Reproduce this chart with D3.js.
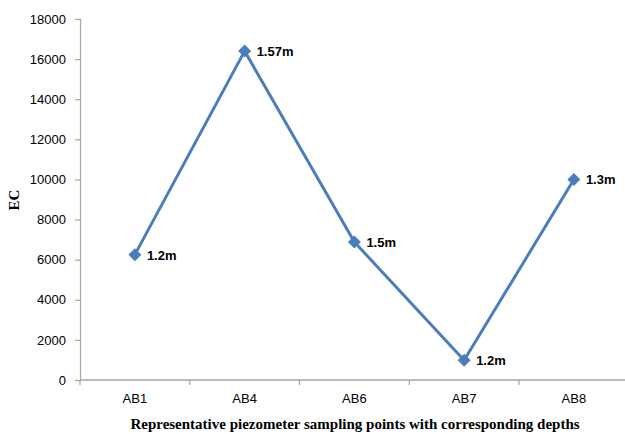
<!DOCTYPE html>
<html>
<head>
<meta charset="utf-8">
<script src="https://cdn.jsdelivr.net/npm/d3@7"></script>
<style>
  html, body { margin: 0; padding: 0; background: #fff; }
  svg { display: block; }
</style>
</head>
<body>
<svg id="chart" width="625" height="434"></svg>
<script>
// EC at each piezometer, with the sampling depth shown beside its marker
const categories = ["AB1", "AB4", "AB6", "AB7", "AB8"];
const ecValues = [6250, 16400, 6880, 980, 10000];
const depthLabels = ["1.2m", "1.57m", "1.5m", "1.2m", "1.3m"];
const yTicks = [0, 2000, 4000, 6000, 8000, 10000, 12000, 14000, 16000, 18000];

const svg = d3.select("#chart");
const margin = { left: 80, top: 19, bottom: 54 };
const W = 625, H = 434;
const plotRight = 80 + 109.75 * 5;

const x = d3.scaleBand().domain(categories).range([margin.left, plotRight]);
const y = d3.scaleLinear().domain([0, 18000]).range([H - margin.bottom, margin.top]);

const axisColor = "#a6a6a6";
const tickFont = "'Liberation Sans', Arial, sans-serif";

// Y axis
const yAxis = svg.append("g")
  .attr("transform", `translate(${margin.left},0)`)
  .call(d3.axisLeft(y).tickValues(yTicks).tickSize(5).tickPadding(9).tickFormat(d3.format("d")));
yAxis.select(".domain").attr("stroke", axisColor).attr("stroke-width", 1.2);
yAxis.selectAll(".tick line").attr("stroke", axisColor).attr("stroke-width", 1.2);
yAxis.selectAll(".tick text").attr("font-family", tickFont).attr("font-size", 13).attr("fill", "#000");

// X axis with ticks on category boundaries
const xAxisG = svg.append("g").attr("transform", `translate(0,${y(0)})`);
xAxisG.append("line")
  .attr("x1", margin.left).attr("x2", plotRight)
  .attr("stroke", axisColor).attr("stroke-width", 1.6);
const boundaries = categories.map(c => x(c)).concat([plotRight]);
xAxisG.selectAll("line.tick").data(boundaries).join("line")
  .attr("class", "tick")
  .attr("x1", d => d).attr("x2", d => d).attr("y1", 0).attr("y2", 5)
  .attr("stroke", axisColor).attr("stroke-width", 1.2);
xAxisG.selectAll("text").data(categories).join("text")
  .attr("x", d => x(d) + x.bandwidth() / 2)
  .attr("y", 23)
  .attr("text-anchor", "middle")
  .attr("font-family", tickFont).attr("font-size", 13).attr("fill", "#000")
  .text(d => d);

// Axis titles
svg.append("text")
  .attr("x", 355).attr("y", 429)
  .attr("text-anchor", "middle")
  .attr("font-family", "'Liberation Serif', 'Times New Roman', serif")
  .attr("font-weight", "bold").attr("font-size", 15)
  .text("Representative piezometer sampling points with corresponding depths");
svg.append("text")
  .attr("transform", "translate(19,200) rotate(-90)")
  .attr("text-anchor", "middle")
  .attr("font-family", "'Liberation Serif', 'Times New Roman', serif")
  .attr("font-weight", "bold").attr("font-size", 15)
  .text("EC");

// Series line
const points = categories.map((c, i) => ({ c, v: ecValues[i], label: depthLabels[i] }));
const cx = d => x(d.c) + x.bandwidth() / 2;
svg.append("path")
  .datum(points)
  .attr("fill", "none")
  .attr("stroke", "#4a7ebb")
  .attr("stroke-width", 3)
  .attr("stroke-linejoin", "round")
  .attr("d", d3.line().x(cx).y(d => y(d.v)));

// Diamond markers
svg.selectAll("path.marker").data(points).join("path")
  .attr("class", "marker")
  .attr("transform", d => `translate(${cx(d)},${y(d.v)})`)
  .attr("d", "M0,-6.5L6.5,0L0,6.5L-6.5,0Z")
  .attr("fill", "#4a7ebb");

// Depth labels
svg.selectAll("text.depth").data(points).join("text")
  .attr("class", "depth")
  .attr("x", d => cx(d) + 12)
  .attr("y", d => y(d.v) + 5)
  .attr("font-family", tickFont)
  .attr("font-weight", "bold").attr("font-size", 13)
  .attr("fill", "#000")
  .text(d => d.label);
</script>
</body>
</html>
